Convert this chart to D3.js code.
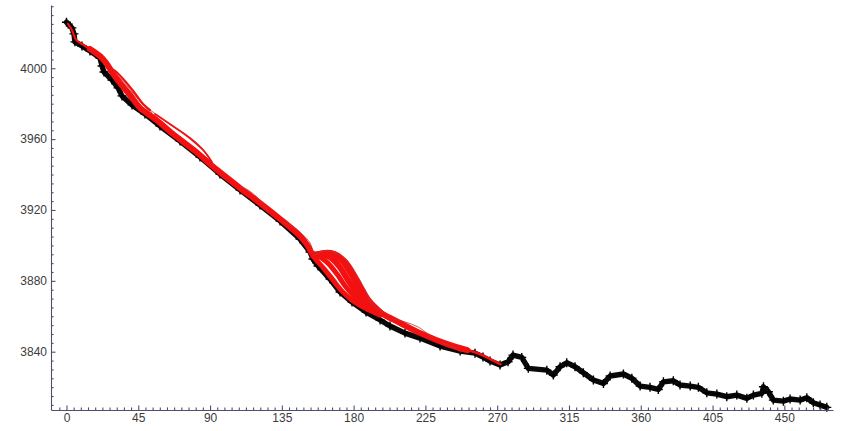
<!DOCTYPE html>
<html>
<head>
<meta charset="utf-8">
<script src="https://cdn.jsdelivr.net/npm/d3@7"></script>
<style>
  body { margin: 0; background: #fff; }
  svg { display: block; }
  .axis text { font-family: "Liberation Sans", Arial, sans-serif; font-size: 12px; fill: #3c3c3c; }
  .axis path, .axis line { stroke: #4f4f6b; stroke-width: 1.1; }
</style>
</head>
<body>
<svg id="chart" width="843" height="431"></svg>
<script>
// Observed series: sample index and value
const obsX = [0, 3.4, 4.7, 5.3, 9.7, 14.7, 21.0, 22.3, 23.5, 28.5, 32.3, 34.8, 41.1, 49.2, 58.6, 71.2, 83.7, 96.2,
  108.8, 121.3, 133.9, 146.4, 152.7, 154.5, 157.7, 165.2, 171.5, 179.0, 187.8, 196.6, 202.8, 212.2, 221.6,
  234.2, 246.8, 256.1, 261.1, 265.5, 271.8, 276.8, 279.9, 285.4, 289.5, 301.1, 305.2, 309.4, 313.6, 318.8,
  324.0, 330.3, 336.6, 340.8, 349.1, 354.4, 359.6, 365.8, 371.0, 374.2, 380.4, 384.6, 391.0, 396.1, 401.4,
  407.7, 413.9, 420.2, 426.5, 430.6, 435.9, 436.9, 440.0, 443.1, 449.4, 453.6, 459.9, 464.1, 468.2, 472.4, 476.6];
const obsY = [4026.0, 4022.8, 4019.4, 4014.9, 4012.6, 4009.8, 4005.8, 4001.3, 3997.9, 3993.4, 3988.9, 3984.4,
  3979.3, 3974.2, 3967.4, 3958.9, 3949.9, 3940.3, 3931.3, 3922.8, 3913.8, 3903.6, 3896.3, 3892.3, 3888.4,
  3881.0, 3873.7, 3868.0, 3862.4, 3857.9, 3854.5, 3850.5, 3847.7, 3843.2, 3840.4, 3839.2, 3837.0, 3834.7,
  3832.5, 3834.3, 3838.1, 3836.8, 3830.6, 3829.6, 3826.8, 3831.5, 3833.8, 3831.5, 3828.1, 3824.0, 3822.1,
  3826.3, 3827.4, 3825.0, 3820.6, 3819.9, 3818.7, 3823.0, 3823.6, 3821.2, 3820.6, 3819.9, 3816.8, 3816.1,
  3814.6, 3815.5, 3813.7, 3815.5, 3816.5, 3820.2, 3817.4, 3812.7, 3812.1, 3813.3, 3812.7, 3814.0, 3811.2,
  3809.9, 3808.6];

// Fitted runs, [index, value]
const fitHead = [[0.9, 4025.0], [3.4, 4021.6], [6.0, 4016.0], [9.7, 4013.7], [14.7, 4010.9], [21.0, 4006.9]];
const fitBand = [[14.7, 4010.9], [21.0, 4006.9], [24.8, 4003.0], [28.5, 3997.9], [33.5, 3991.7], [39.8, 3984.9],
  [46.1, 3977.6], [55.5, 3971.4], [66.8, 3962.9], [80.6, 3953.3], [94.4, 3942.6], [108.8, 3932.4],
  [121.3, 3923.9], [133.9, 3914.9], [146.4, 3905.3], [151.4, 3899.6], [154.5, 3895.1], [158.9, 3895.1],
  [165.2, 3893.4], [170.9, 3888.3], [176.5, 3880.4], [182.8, 3872.5], [189.7, 3866.3], [197.2, 3861.8],
  [209.2, 3856.2], [221.8, 3850.5], [238.7, 3844.3], [251.3, 3840.9]];
const fitTail = [[238.7, 3844.3], [251.3, 3840.9], [259.4, 3838.6], [265.7, 3835.8], [272.0, 3833.0]];
const fanLow = [[154.5, 3894.0], [157.7, 3890.6], [162.1, 3886.1], [167.1, 3880.4], [172.7, 3874.2],
  [179.0, 3869.1], [187.2, 3864.6], [196.6, 3860.6]];
const fanMid = [[154.5, 3894.0], [158.9, 3893.4], [163.9, 3890.0], [169.6, 3883.8], [175.2, 3876.5],
  [181.5, 3870.3], [189.0, 3865.2], [196.6, 3861.2]];
const fanHigh = [[154.5, 3894.0], [160.2, 3895.7], [167.1, 3895.1], [172.7, 3891.2], [177.7, 3884.4],
  [182.8, 3876.5], [188.4, 3868.6], [197.2, 3861.8]];
const fanTop = [[154.5, 3894.0], [160.8, 3896.3], [168.3, 3895.7], [174.6, 3891.7], [179.6, 3885.5],
  [184.6, 3877.6], [189.7, 3869.7], [197.8, 3862.3]];
const fanOuter = [[154.5, 3894.0], [162.1, 3896.9], [170.2, 3895.1], [176.5, 3890.6], [182.1, 3882.7],
  [187.2, 3874.8], [191.6, 3866.9], [198.5, 3861.8]];
const arcEarly = [[23.5, 4002.4], [27.3, 4000.2], [32.3, 3995.7], [37.9, 3990.1], [44.2, 3983.2],
  [49.8, 3977.6], [53.6, 3974.8]];
const arcEarly2 = [[24.8, 4001.3], [30.4, 3998.5], [36.1, 3993.4], [42.3, 3986.6], [48.0, 3979.8], [52.4, 3976.4]];
const arcMid = [[52.4, 3976.4], [58.6, 3972.5], [66.1, 3967.4], [74.3, 3962.9], [81.8, 3957.8],
  [88.1, 3951.0], [92.5, 3944.3]];
const arcMid2 = [[55.5, 3974.2], [63.0, 3969.7], [71.2, 3964.6], [78.7, 3959.5], [85.6, 3953.9], [91.2, 3947.1]];
const arcLoop = [[108.8, 3933.5], [113.8, 3931.3], [119.4, 3927.3], [124.5, 3921.7], [126.3, 3918.9]];
const arcKnee = [[135.7, 3913.2], [141.4, 3911.0], [147.6, 3906.5], [152.7, 3901.4], [154.5, 3896.3]];
const arcLate = [[204.7, 3858.5], [212.2, 3856.8], [220.4, 3854.0], [226.6, 3850.0], [229.8, 3847.7]];
const arcLate2 = [[234.2, 3845.5], [239.2, 3843.8], [243.6, 3842.1], [246.8, 3839.8]];

// Tick labels
const xTicks = [0, 45, 90, 135, 180, 225, 270, 315, 360, 405, 450];
const yTicks = [3840, 3880, 3920, 3960, 4000];

const svg = d3.select("#chart");
const x = d3.scaleLinear().domain([-9.7, 480.5]).range([51, 833]);
const y = d3.scaleLinear().domain([3807.1, 4035.7]).range([410, 5]);

// Observed series: heavy line with "+" markers
const obsPts = obsX.map((v, i) => [v, obsY[i]]);
const line = d3.line().x(d => x(d[0])).y(d => y(d[1]));
svg.append("path").attr("d", line(obsPts))
  .attr("fill", "none").attr("stroke", "#0a0a0a").attr("stroke-width", 5.4)
  .attr("stroke-linejoin", "round").attr("stroke-linecap", "round");
svg.append("g").selectAll("path").data(obsPts).join("path")
  .attr("d", d => {
    const px = x(d[0]), py = y(d[1]), s = 4.5;
    return `M${px - s},${py}H${px + s}M${px},${py - s}V${py + s}`;
  })
  .attr("stroke", "#000").attr("stroke-width", 1.4);

// Fitted runs
const curve = d3.line().x(d => x(d[0])).y(d => y(d[1])).curve(d3.curveCatmullRom.alpha(0.5));
const red = "#f21010";
const thin = "#b83a3a";
const runs = [
  { pts: fitBand, w: 6, c: red },
  { pts: fitHead, w: 2.2, c: red },
  { pts: fitTail, w: 2.6, c: red },
  { pts: fanLow, w: 5, c: red },
  { pts: fanMid, w: 5, c: red },
  { pts: fanHigh, w: 5, c: red },
  { pts: fanTop, w: 3.6, c: red },
  { pts: fanOuter, w: 0.8, c: thin },
  { pts: arcEarly, w: 0.8, c: thin },
  { pts: arcEarly2, w: 2.2, c: red },
  { pts: arcMid, w: 0.8, c: thin },
  { pts: arcMid2, w: 1.8, c: red },
  { pts: arcLoop, w: 0.8, c: thin },
  { pts: arcKnee, w: 0.8, c: thin },
  { pts: arcLate, w: 0.8, c: thin },
  { pts: arcLate2, w: 0.8, c: thin }
];
svg.append("g").selectAll("path").data(runs).join("path")
  .attr("d", d => curve(d.pts))
  .attr("fill", "none").attr("stroke", d => d.c).attr("stroke-width", d => d.w)
  .attr("stroke-linejoin", "round").attr("stroke-linecap", "round");

// Axes with inward ticks
const yMinor = d3.range(3810, 4036, 5).filter(v => v % 40 !== 0);
const xMinor = d3.range(-4.5, 480, 4.5).filter(v => Math.abs(v % 45) > 1e-6);

svg.append("g").attr("class", "axis").attr("transform", "translate(51,0)")
  .call(d3.axisLeft(y).tickValues(yMinor).tickSize(-2.6).tickFormat(""))
  .call(g => g.select(".domain").remove());
svg.append("g").attr("class", "axis").attr("transform", "translate(51,0)")
  .call(d3.axisLeft(y).tickValues(yTicks).tickSizeInner(-4.5).tickSizeOuter(0).tickPadding(4).tickFormat(d3.format("d")));

svg.append("g").attr("class", "axis").attr("transform", "translate(0,410)")
  .call(d3.axisBottom(x).tickValues(xMinor).tickSize(-2.6).tickFormat(""))
  .call(g => g.select(".domain").remove());
svg.append("g").attr("class", "axis").attr("transform", "translate(0,410)")
  .call(d3.axisBottom(x).tickValues(xTicks).tickSizeInner(-4.5).tickSizeOuter(0).tickPadding(3).tickFormat(d3.format("d")));
</script>
</body>
</html>
